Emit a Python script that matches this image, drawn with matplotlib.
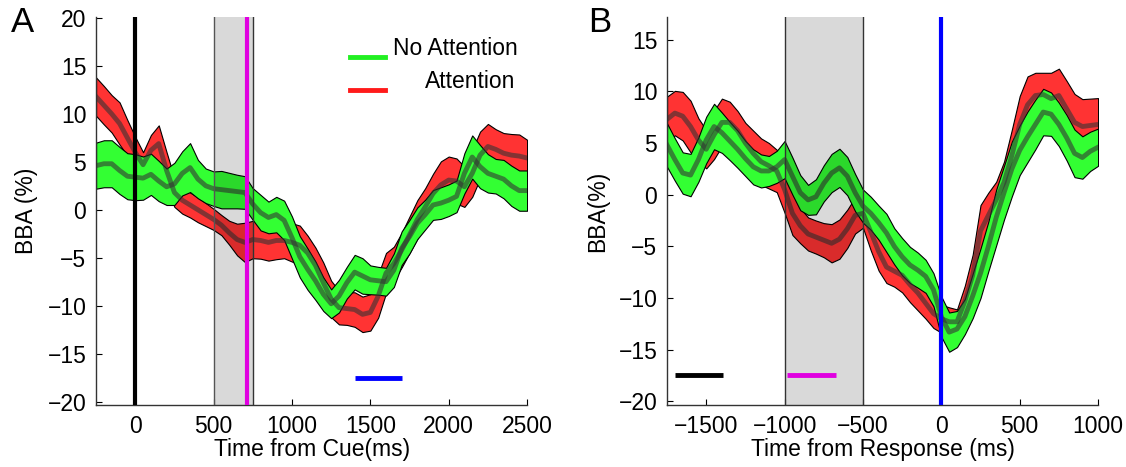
import numpy as np
import matplotlib.pyplot as plt

plt.rcParams['font.family'] = ['Liberation Sans', 'DejaVu Sans']
plt.rcParams['font.size'] = 16.5

# ---- data: time locked to cue (panel A) ----
time_cue = np.arange(-250, 2501, 50)
noatt_cue_mean = [4.6, 4.8, 4.8, 4.1, 3.5, 3.4, 3.3, 3.7, 3.0, 2.4,
                  2.7, 3.8, 4.4, 3.2, 2.5, 2.2, 2.1, 2.0, 1.9, 1.8,
                  0.6, -0.3, -0.8, -0.5, -1.1, -2.9, -4.9, -6.2, -7.4, -8.8,
                  -9.8, -9.0, -7.6, -6.5, -6.9, -7.3, -7.4, -7.5, -6.3, -4.0,
                  -2.8, -1.4, -0.5, 0.5, 0.7, 1.0, 1.4, 3.8, 5.5, 4.5,
                  3.8, 3.5, 3.2, 2.5, 2.0, 2.0]
noatt_cue_sem = [2.4, 2.45, 2.45, 2.45, 2.4, 2.4, 2.25, 2.15, 2.1, 1.9,
                 2.2, 2.3, 2.55, 2.0, 1.8, 1.8, 1.95, 1.85, 1.75, 1.7,
                 1.65, 1.85, 1.65, 1.85, 2.05, 2.2, 2.15, 2.15, 2.0, 1.75,
                 1.5, 1.7, 1.65, 1.8, 1.85, 1.5, 1.45, 1.45, 1.75, 1.75,
                 1.75, 1.65, 1.55, 1.55, 1.65, 1.65, 1.65, 2.1, 2.25, 2.25,
                 2.0, 1.8, 2.0, 2.1, 2.1, 2.1]
att_cue_mean = [11.8, 10.9, 10.0, 9.0, 7.5, 6.0, 4.7, 6.2, 6.9, 4.1,
                1.8, 1.0, 0.5, 0.0, -0.5, -1.0, -1.6, -2.4, -3.1, -3.4,
                -3.1, -3.2, -3.4, -3.2, -3.2, -3.4, -3.7, -4.5, -5.8, -7.6,
                -9.3, -10.2, -10.3, -10.4, -10.9, -10.7, -9.0, -6.6, -5.6, -4.2,
                -2.6, -1.0, 0.3, 1.7, 2.6, 3.1, 3.0, 2.4, 3.8, 5.7,
                6.6, 6.3, 5.9, 5.7, 5.6, 5.4]
att_cue_sem = [2.0, 2.0, 1.95, 2.2, 1.85, 1.6, 1.3, 1.6, 1.9, 1.9,
               1.5, 1.4, 1.3, 1.3, 1.2, 1.1, 1.05, 1.25, 1.65, 2.05,
               1.95, 1.9, 1.9, 1.95, 1.85, 2.0, 2.05, 1.8, 1.85, 2.1,
               1.9, 1.75, 1.7, 1.8, 1.85, 1.9, 2.25, 2.1, 1.75, 1.8,
               1.9, 2.0, 1.95, 2.05, 2.45, 2.45, 2.35, 2.1, 2.45, 2.45,
               2.35, 2.1, 2.1, 2.2, 2.25, 1.9]

# ---- data: time locked to response (panel B) ----
time_resp = np.arange(-1750, 1001, 50)
noatt_resp_mean = [4.8, 3.4, 2.1, 1.9, 3.4, 5.3, 6.6, 6.0, 5.2, 4.4,
                   3.5, 2.7, 2.3, 2.3, 2.7, 3.4, 1.8, 0.2, -0.5, -0.2,
                   1.1, 2.1, 2.6, 1.8, 0.2, -1.1, -1.8, -2.7, -3.7, -5.0,
                   -6.0, -6.8, -7.3, -7.9, -9.2, -11.8, -13.3, -13.0, -11.8, -9.8,
                   -7.6, -5.0, -2.2, 0.2, 2.5, 4.3, 5.6, 6.8, 8.0, 7.8,
                   6.8, 5.5, 4.0, 3.6, 4.2, 4.6]
noatt_resp_sem = [2.1, 2.05, 2.0, 2.05, 2.15, 2.25, 2.2, 1.95, 1.85, 1.8,
                  1.7, 1.7, 1.6, 1.45, 1.55, 1.8, 1.8, 1.7, 1.45, 1.7,
                  1.75, 1.85, 1.85, 1.85, 1.8, 1.6, 1.6, 1.65, 1.85, 1.75,
                  1.8, 1.75, 1.7, 1.6, 1.6, 1.95, 1.9, 1.75, 1.7, 2.15,
                  2.4, 2.4, 2.7, 2.6, 2.65, 2.4, 2.45, 2.4, 2.25, 2.1,
                  2.1, 2.2, 2.3, 2.05, 1.9, 1.8]
att_resp_mean = [7.3, 7.9, 7.6, 6.6, 5.3, 4.4, 5.8, 7.0, 7.0, 6.2,
                 5.0, 4.0, 3.2, 2.8, 2.3, 0.5, -1.8, -3.0, -3.8, -4.1,
                 -4.4, -4.7, -4.3, -3.3, -2.0, -1.8, -3.6, -5.5, -7.0, -7.4,
                 -7.8, -8.7, -9.5, -10.5, -11.5, -12.0, -12.3, -12.3, -10.3, -7.8,
                 -3.5, -2.0, -0.5, 1.2, 3.8, 6.8, 8.7, 9.6, 9.7, 9.3,
                 9.6, 8.3, 7.0, 6.6, 6.7, 6.8]
att_resp_sem = [2.2, 2.15, 2.35, 2.5, 2.1, 1.85, 2.35, 2.3, 2.0, 1.9,
                1.95, 2.2, 2.25, 2.2, 2.05, 2.25, 2.1, 1.7, 1.6, 1.6,
                1.65, 1.85, 1.9, 1.85, 1.75, 1.4, 1.8, 1.85, 1.55, 1.5,
                1.65, 1.7, 1.7, 1.5, 1.4, 1.35, 1.4, 1.2, 1.5, 2.0,
                2.5, 2.2, 1.75, 2.0, 2.5, 2.75, 2.75, 2.2, 2.1, 2.5,
                2.6, 2.7, 2.75, 2.65, 2.6, 2.55]

# significance / event windows (ms)
sig_cue = [1400, 1700]
sig_resp_black = [-1700, -1390]
sig_resp_magenta = [-985, -670]

RED = '#ff3333'
GREEN = '#33ff33'


def draw_cond(ax, t, mean, sem, color):
    m = np.array(mean)
    s = np.array(sem)
    ax.fill_between(t, m - s, m + s, facecolor=color, edgecolor='k', linewidth=0.8, zorder=2)


def draw_mean(ax, t, mean):
    ax.plot(t, mean, color='#333333', alpha=0.6, lw=3.5, zorder=3, solid_joinstyle='round')


def style_axes(ax):
    ax.spines[['top', 'right']].set_visible(False)
    for sp in ['left', 'bottom']:
        ax.spines[sp].set_color('#333333')
        ax.spines[sp].set_linewidth(1.0)
    ax.tick_params(direction='in', length=4, width=0.8, pad=7, labelsize=16.5, colors='black')


fig = plt.figure(figsize=(11.26, 4.67), dpi=100)
axA = fig.add_axes([0.0853, 0.1328, 0.3828, 0.8308])
axB = fig.add_axes([0.5924, 0.1328, 0.3828, 0.8308])

# panel A
draw_cond(axA, time_cue, att_cue_mean, att_cue_sem, RED)
draw_cond(axA, time_cue, noatt_cue_mean, noatt_cue_sem, GREEN)
draw_mean(axA, time_cue, att_cue_mean)
draw_mean(axA, time_cue, noatt_cue_mean)
axA.axvspan(500, 750, facecolor='k', alpha=0.15, edgecolor='none', zorder=4)
axA.axvline(500, color='#555555', lw=1.0, zorder=4)
axA.axvline(750, color='#333333', lw=1.0, zorder=4)
axA.axvline(0, color='k', lw=3, zorder=5)
axA.axvline(710, color='#e000e0', lw=3, zorder=5)
axA.plot(sig_cue, [-17.5, -17.5], color='#0000ff', lw=3.5, solid_capstyle='butt', zorder=5)
axA.set_xlim(-250, 2500)
axA.set_ylim(-20.35, 20.1)
axA.set_xticks([0, 500, 1000, 1500, 2000, 2500])
axA.set_yticks(range(-20, 21, 5))
axA.set_xlabel('Time from Cue(ms)', labelpad=0)
axA.set_ylabel('BBA (%)')
axA.yaxis.set_label_coords(-0.135, 0.5)
style_axes(axA)

# legend drawn by hand so "Attention" sits to the right as in the figure
axA.plot([0.59, 0.67], [0.897, 0.897], transform=axA.transAxes, color='#22f022', lw=3.5, zorder=6)
axA.plot([0.59, 0.67], [0.812, 0.812], transform=axA.transAxes, color='#ff1a1a', lw=3.5, zorder=6)
axA.text(0.689, 0.918, 'No Attention', transform=axA.transAxes, va='center', ha='left')
axA.text(0.763, 0.835, 'Attention', transform=axA.transAxes, va='center', ha='left')

# panel B
draw_cond(axB, time_resp, att_resp_mean, att_resp_sem, RED)
draw_cond(axB, time_resp, noatt_resp_mean, noatt_resp_sem, GREEN)
draw_mean(axB, time_resp, att_resp_mean)
draw_mean(axB, time_resp, noatt_resp_mean)
axB.axvspan(-1000, -500, facecolor='k', alpha=0.15, edgecolor='none', zorder=4)
axB.axvline(-1000, color='#333333', lw=1.0, zorder=4)
axB.axvline(-500, color='#333333', lw=1.0, zorder=4)
axB.axvline(0, color='#0000ff', lw=3, zorder=5)
axB.plot(sig_resp_black, [-17.4, -17.4], color='k', lw=3.5, solid_capstyle='butt', zorder=5)
axB.plot(sig_resp_magenta, [-17.4, -17.4], color='#e000e0', lw=3.5, solid_capstyle='butt', zorder=5)
axB.set_xlim(-1750, 1000)
axB.set_ylim(-20.35, 17.2)
axB.set_xticks([-1500, -1000, -500, 0, 500, 1000])
axB.set_yticks(range(-20, 16, 5))
axB.set_xlabel('Time from Response (ms)', labelpad=0)
axB.set_ylabel('BBA(%)')
axB.yaxis.set_label_coords(-0.135, 0.5)
style_axes(axB)

fig.text(0.010, 0.952, 'A', fontsize=25, va='center', ha='left')
fig.text(0.522, 0.952, 'B', fontsize=25, va='center', ha='left')

fig.savefig('out.png', dpi=100, facecolor='white')
